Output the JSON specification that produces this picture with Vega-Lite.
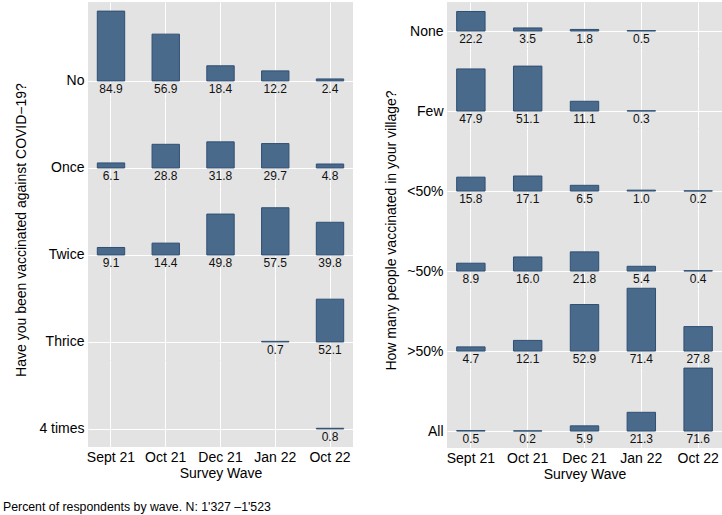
{
  "$schema": "https://vega.github.io/schema/vega-lite/v6.json",
  "padding": {"left": 2, "top": 2, "right": 0, "bottom": 4},
  "config": {
    "font": "Liberation Sans",
    "view": {"stroke": null, "fill": "#e3e3e3"},
    "axis": {"labelColor": "#000000", "titleColor": "#000000", "titleFontWeight": "normal", "gridColor": "#ffffff", "gridWidth": 1, "gridOpacity": 1},
    "text": {"color": "#111111"}
  },
  "title": {"text": "Percent of respondents by wave. N: 1'327 \u20131'523", "orient": "bottom", "anchor": "start", "frame": "bounds", "fontSize": 12.3, "fontWeight": "normal", "color": "#000000", "offset": 20, "dx": -11},
  "datasets": {
    "vax": [
      {"cat": "No", "wave": "Sept 21", "value": 84.9},
      {"cat": "No", "wave": "Oct 21", "value": 56.9},
      {"cat": "No", "wave": "Dec 21", "value": 18.4},
      {"cat": "No", "wave": "Jan 22", "value": 12.2},
      {"cat": "No", "wave": "Oct 22", "value": 2.4},
      {"cat": "Once", "wave": "Sept 21", "value": 6.1},
      {"cat": "Once", "wave": "Oct 21", "value": 28.8},
      {"cat": "Once", "wave": "Dec 21", "value": 31.8},
      {"cat": "Once", "wave": "Jan 22", "value": 29.7},
      {"cat": "Once", "wave": "Oct 22", "value": 4.8},
      {"cat": "Twice", "wave": "Sept 21", "value": 9.1},
      {"cat": "Twice", "wave": "Oct 21", "value": 14.4},
      {"cat": "Twice", "wave": "Dec 21", "value": 49.8},
      {"cat": "Twice", "wave": "Jan 22", "value": 57.5},
      {"cat": "Twice", "wave": "Oct 22", "value": 39.8},
      {"cat": "Thrice", "wave": "Jan 22", "value": 0.7},
      {"cat": "Thrice", "wave": "Oct 22", "value": 52.1},
      {"cat": "4 times", "wave": "Oct 22", "value": 0.8}
    ],
    "village": [
      {"cat": "None", "wave": "Sept 21", "value": 22.2},
      {"cat": "None", "wave": "Oct 21", "value": 3.5},
      {"cat": "None", "wave": "Dec 21", "value": 1.8},
      {"cat": "None", "wave": "Jan 22", "value": 0.5},
      {"cat": "Few", "wave": "Sept 21", "value": 47.9},
      {"cat": "Few", "wave": "Oct 21", "value": 51.1},
      {"cat": "Few", "wave": "Dec 21", "value": 11.1},
      {"cat": "Few", "wave": "Jan 22", "value": 0.3},
      {"cat": "<50%", "wave": "Sept 21", "value": 15.8},
      {"cat": "<50%", "wave": "Oct 21", "value": 17.1},
      {"cat": "<50%", "wave": "Dec 21", "value": 6.5},
      {"cat": "<50%", "wave": "Jan 22", "value": 1.0},
      {"cat": "<50%", "wave": "Oct 22", "value": 0.2},
      {"cat": "~50%", "wave": "Sept 21", "value": 8.9},
      {"cat": "~50%", "wave": "Oct 21", "value": 16.0},
      {"cat": "~50%", "wave": "Dec 21", "value": 21.8},
      {"cat": "~50%", "wave": "Jan 22", "value": 5.4},
      {"cat": "~50%", "wave": "Oct 22", "value": 0.4},
      {"cat": ">50%", "wave": "Sept 21", "value": 4.7},
      {"cat": ">50%", "wave": "Oct 21", "value": 12.1},
      {"cat": ">50%", "wave": "Dec 21", "value": 52.9},
      {"cat": ">50%", "wave": "Jan 22", "value": 71.4},
      {"cat": ">50%", "wave": "Oct 22", "value": 27.8},
      {"cat": "All", "wave": "Sept 21", "value": 0.5},
      {"cat": "All", "wave": "Oct 21", "value": 0.2},
      {"cat": "All", "wave": "Dec 21", "value": 5.9},
      {"cat": "All", "wave": "Jan 22", "value": 21.3},
      {"cat": "All", "wave": "Oct 22", "value": 71.6}
    ]
  },
  "spacing": 30,
  "hconcat": [
    {
      "spacing": 0,
      "bounds": "flush",
      "resolve": {"scale": {"x": "independent", "y": "independent"}, "axis": {"x": "independent", "y": "independent"}},
      "vconcat": [
        {
          "width": 265, "height": 97,
          "data": {"name": "vax"},
          "transform": [{"filter": "datum.cat === 'No'"}],
          "encoding": {"x": {"field": "wave", "type": "ordinal", "scale": {"domain": ["Sept 21", "Oct 21", "Dec 21", "Jan 22", "Oct 22"], "paddingInner": 0.5, "paddingOuter": 0.17}, "axis": {"grid": true, "labels": false, "ticks": false, "domain": false, "title": null, "bandPosition": 0.5}}},
          "layer": [
            {"mark": {"type": "bar", "fill": "#4a6a8c", "stroke": "#2f4f73", "strokeWidth": 1}, "encoding": {"y": {"field": "value", "type": "quantitative", "scale": {"domain": [-22, 96], "nice": false, "zero": false}, "axis": {"values": [0], "grid": true, "ticks": false, "domain": false, "title": null, "labelExpr": "'No'", "labelFontSize": 14, "labelPadding": 4, "labelBaseline": "middle"}}}},
            {"mark": {"type": "text", "baseline": "top", "dy": 3, "fontSize": 12}, "encoding": {"y": {"datum": 0}, "text": {"field": "value", "type": "quantitative", "format": ".1f"}}}
          ]
        },
        {
          "width": 265, "height": 87,
          "data": {"name": "vax"},
          "transform": [{"filter": "datum.cat === 'Once'"}],
          "encoding": {"x": {"field": "wave", "type": "ordinal", "scale": {"domain": ["Sept 21", "Oct 21", "Dec 21", "Jan 22", "Oct 22"], "paddingInner": 0.5, "paddingOuter": 0.17}, "axis": {"grid": true, "labels": false, "ticks": false, "domain": false, "title": null, "bandPosition": 0.5}}},
          "layer": [
            {"mark": {"type": "bar", "fill": "#4a6a8c", "stroke": "#2f4f73", "strokeWidth": 1}, "encoding": {"y": {"field": "value", "type": "quantitative", "scale": {"domain": [-22, 84], "nice": false, "zero": false}, "axis": {"values": [0], "grid": true, "ticks": false, "domain": false, "title": null, "labelExpr": "'Once'", "labelFontSize": 14, "labelPadding": 4, "labelBaseline": "middle"}}}},
            {"mark": {"type": "text", "baseline": "top", "dy": 3, "fontSize": 12}, "encoding": {"y": {"datum": 0}, "text": {"field": "value", "type": "quantitative", "format": ".1f"}}}
          ]
        },
        {
          "width": 265, "height": 87,
          "data": {"name": "vax"},
          "transform": [{"filter": "datum.cat === 'Twice'"}],
          "encoding": {"x": {"field": "wave", "type": "ordinal", "scale": {"domain": ["Sept 21", "Oct 21", "Dec 21", "Jan 22", "Oct 22"], "paddingInner": 0.5, "paddingOuter": 0.17}, "axis": {"grid": true, "labels": false, "ticks": false, "domain": false, "title": null, "bandPosition": 0.5}}},
          "layer": [
            {"mark": {"type": "bar", "fill": "#4a6a8c", "stroke": "#2f4f73", "strokeWidth": 1}, "encoding": {"y": {"field": "value", "type": "quantitative", "scale": {"domain": [-22, 84], "nice": false, "zero": false}, "axis": {"values": [0], "grid": true, "ticks": false, "domain": false, "title": "Have you been vaccinated against COVID\u221219?", "titleFontSize": 14, "titleX": -60, "labelExpr": "'Twice'", "labelFontSize": 14, "labelPadding": 4, "labelBaseline": "middle"}}}},
            {"mark": {"type": "text", "baseline": "top", "dy": 3, "fontSize": 12}, "encoding": {"y": {"datum": 0}, "text": {"field": "value", "type": "quantitative", "format": ".1f"}}}
          ]
        },
        {
          "width": 265, "height": 87,
          "data": {"name": "vax"},
          "transform": [{"filter": "datum.cat === 'Thrice'"}],
          "encoding": {"x": {"field": "wave", "type": "ordinal", "scale": {"domain": ["Sept 21", "Oct 21", "Dec 21", "Jan 22", "Oct 22"], "paddingInner": 0.5, "paddingOuter": 0.17}, "axis": {"grid": true, "labels": false, "ticks": false, "domain": false, "title": null, "bandPosition": 0.5}}},
          "layer": [
            {"mark": {"type": "bar", "fill": "#4a6a8c", "stroke": "#2f4f73", "strokeWidth": 1}, "encoding": {"y": {"field": "value", "type": "quantitative", "scale": {"domain": [-22, 84], "nice": false, "zero": false}, "axis": {"values": [0], "grid": true, "ticks": false, "domain": false, "title": null, "labelExpr": "'Thrice'", "labelFontSize": 14, "labelPadding": 4, "labelBaseline": "middle"}}}},
            {"mark": {"type": "text", "baseline": "top", "dy": 3, "fontSize": 12}, "encoding": {"y": {"datum": 0}, "text": {"field": "value", "type": "quantitative", "format": ".1f"}}}
          ]
        },
        {
          "width": 265, "height": 87,
          "data": {"name": "vax"},
          "transform": [{"filter": "datum.cat === '4 times'"}],
          "encoding": {"x": {"field": "wave", "type": "ordinal", "scale": {"domain": ["Sept 21", "Oct 21", "Dec 21", "Jan 22", "Oct 22"], "paddingInner": 0.5, "paddingOuter": 0.17}, "axis": {"grid": true, "labels": true, "labelFontSize": 14, "labelPadding": 3, "labelAngle": 0, "ticks": false, "domain": false, "title": "Survey Wave", "titleFontSize": 14, "titlePadding": 2, "bandPosition": 0.5}}},
          "layer": [
            {"mark": {"type": "bar", "fill": "#4a6a8c", "stroke": "#2f4f73", "strokeWidth": 1}, "encoding": {"y": {"field": "value", "type": "quantitative", "scale": {"domain": [-22, 84], "nice": false, "zero": false}, "axis": {"values": [0], "grid": true, "ticks": false, "domain": false, "title": null, "labelExpr": "'4 times'", "labelFontSize": 14, "labelPadding": 4, "labelBaseline": "middle"}}}},
            {"mark": {"type": "text", "baseline": "top", "dy": 3, "fontSize": 12}, "encoding": {"y": {"datum": 0}, "text": {"field": "value", "type": "quantitative", "format": ".1f"}}}
          ]
        }
      ]
    },
    {
      "spacing": 0,
      "bounds": "flush",
      "resolve": {"scale": {"x": "independent", "y": "independent"}, "axis": {"x": "independent", "y": "independent"}},
      "vconcat": [
        {
          "width": 275, "height": 46,
          "data": {"name": "village"},
          "transform": [{"filter": "datum.cat === 'None'"}],
          "encoding": {"x": {"field": "wave", "type": "ordinal", "scale": {"domain": ["Sept 21", "Oct 21", "Dec 21", "Jan 22", "Oct 22"], "paddingInner": 0.5, "paddingOuter": 0.17}, "axis": {"grid": true, "labels": false, "ticks": false, "domain": false, "title": null, "bandPosition": 0.5}}},
          "layer": [
            {"mark": {"type": "bar", "fill": "#4a6a8c", "stroke": "#2f4f73", "strokeWidth": 1}, "encoding": {"y": {"field": "value", "type": "quantitative", "scale": {"domain": [-19.3, 33], "nice": false, "zero": false}, "axis": {"values": [0], "grid": true, "ticks": false, "domain": false, "title": null, "labelExpr": "'None'", "labelFontSize": 14, "labelPadding": 4, "labelBaseline": "middle"}}}},
            {"mark": {"type": "text", "baseline": "top", "dy": 3, "fontSize": 12}, "encoding": {"y": {"datum": 0}, "text": {"field": "value", "type": "quantitative", "format": ".1f"}}}
          ]
        },
        {
          "width": 275, "height": 80,
          "data": {"name": "village"},
          "transform": [{"filter": "datum.cat === 'Few'"}],
          "encoding": {"x": {"field": "wave", "type": "ordinal", "scale": {"domain": ["Sept 21", "Oct 21", "Dec 21", "Jan 22", "Oct 22"], "paddingInner": 0.5, "paddingOuter": 0.17}, "axis": {"grid": true, "labels": false, "ticks": false, "domain": false, "title": null, "bandPosition": 0.5}}},
          "layer": [
            {"mark": {"type": "bar", "fill": "#4a6a8c", "stroke": "#2f4f73", "strokeWidth": 1}, "encoding": {"y": {"field": "value", "type": "quantitative", "scale": {"domain": [-19.3, 71.7], "nice": false, "zero": false}, "axis": {"values": [0], "grid": true, "ticks": false, "domain": false, "title": null, "labelExpr": "'Few'", "labelFontSize": 14, "labelPadding": 4, "labelBaseline": "middle"}}}},
            {"mark": {"type": "text", "baseline": "top", "dy": 3, "fontSize": 12}, "encoding": {"y": {"datum": 0}, "text": {"field": "value", "type": "quantitative", "format": ".1f"}}}
          ]
        },
        {
          "width": 275, "height": 80,
          "data": {"name": "village"},
          "transform": [{"filter": "datum.cat === '<50%'"}],
          "encoding": {"x": {"field": "wave", "type": "ordinal", "scale": {"domain": ["Sept 21", "Oct 21", "Dec 21", "Jan 22", "Oct 22"], "paddingInner": 0.5, "paddingOuter": 0.17}, "axis": {"grid": true, "labels": false, "ticks": false, "domain": false, "title": null, "bandPosition": 0.5}}},
          "layer": [
            {"mark": {"type": "bar", "fill": "#4a6a8c", "stroke": "#2f4f73", "strokeWidth": 1}, "encoding": {"y": {"field": "value", "type": "quantitative", "scale": {"domain": [-19.3, 71.7], "nice": false, "zero": false}, "axis": {"values": [0], "grid": true, "ticks": false, "domain": false, "title": null, "labelExpr": "'<50%'", "labelFontSize": 14, "labelPadding": 4, "labelBaseline": "middle"}}}},
            {"mark": {"type": "text", "baseline": "top", "dy": 3, "fontSize": 12}, "encoding": {"y": {"datum": 0}, "text": {"field": "value", "type": "quantitative", "format": ".1f"}}}
          ]
        },
        {
          "width": 275, "height": 80,
          "data": {"name": "village"},
          "transform": [{"filter": "datum.cat === '~50%'"}],
          "encoding": {"x": {"field": "wave", "type": "ordinal", "scale": {"domain": ["Sept 21", "Oct 21", "Dec 21", "Jan 22", "Oct 22"], "paddingInner": 0.5, "paddingOuter": 0.17}, "axis": {"grid": true, "labels": false, "ticks": false, "domain": false, "title": null, "bandPosition": 0.5}}},
          "layer": [
            {"mark": {"type": "bar", "fill": "#4a6a8c", "stroke": "#2f4f73", "strokeWidth": 1}, "encoding": {"y": {"field": "value", "type": "quantitative", "scale": {"domain": [-19.3, 71.7], "nice": false, "zero": false}, "axis": {"values": [0], "grid": true, "ticks": false, "domain": false, "title": "How many people vaccinated in your village?", "titleFontSize": 14, "titleX": -49, "titleY": 22, "labelExpr": "'~50%'", "labelFontSize": 14, "labelPadding": 4, "labelBaseline": "middle"}}}},
            {"mark": {"type": "text", "baseline": "top", "dy": 3, "fontSize": 12}, "encoding": {"y": {"datum": 0}, "text": {"field": "value", "type": "quantitative", "format": ".1f"}}}
          ]
        },
        {
          "width": 275, "height": 80,
          "data": {"name": "village"},
          "transform": [{"filter": "datum.cat === '>50%'"}],
          "encoding": {"x": {"field": "wave", "type": "ordinal", "scale": {"domain": ["Sept 21", "Oct 21", "Dec 21", "Jan 22", "Oct 22"], "paddingInner": 0.5, "paddingOuter": 0.17}, "axis": {"grid": true, "labels": false, "ticks": false, "domain": false, "title": null, "bandPosition": 0.5}}},
          "layer": [
            {"mark": {"type": "bar", "fill": "#4a6a8c", "stroke": "#2f4f73", "strokeWidth": 1}, "encoding": {"y": {"field": "value", "type": "quantitative", "scale": {"domain": [-19.3, 71.7], "nice": false, "zero": false}, "axis": {"values": [0], "grid": true, "ticks": false, "domain": false, "title": null, "labelExpr": "'>50%'", "labelFontSize": 14, "labelPadding": 4, "labelBaseline": "middle"}}}},
            {"mark": {"type": "text", "baseline": "top", "dy": 3, "fontSize": 12}, "encoding": {"y": {"datum": 0}, "text": {"field": "value", "type": "quantitative", "format": ".1f"}}}
          ]
        },
        {
          "width": 275, "height": 80,
          "data": {"name": "village"},
          "transform": [{"filter": "datum.cat === 'All'"}],
          "encoding": {"x": {"field": "wave", "type": "ordinal", "scale": {"domain": ["Sept 21", "Oct 21", "Dec 21", "Jan 22", "Oct 22"], "paddingInner": 0.5, "paddingOuter": 0.17}, "axis": {"grid": true, "labels": true, "labelFontSize": 14, "labelPadding": 3, "labelAngle": 0, "ticks": false, "domain": false, "title": "Survey Wave", "titleFontSize": 14, "titlePadding": 2, "bandPosition": 0.5}}},
          "layer": [
            {"mark": {"type": "bar", "fill": "#4a6a8c", "stroke": "#2f4f73", "strokeWidth": 1}, "encoding": {"y": {"field": "value", "type": "quantitative", "scale": {"domain": [-19.3, 71.7], "nice": false, "zero": false}, "axis": {"values": [0], "grid": true, "ticks": false, "domain": false, "title": null, "labelExpr": "'All'", "labelFontSize": 14, "labelPadding": 4, "labelBaseline": "middle"}}}},
            {"mark": {"type": "text", "baseline": "top", "dy": 3, "fontSize": 12}, "encoding": {"y": {"datum": 0}, "text": {"field": "value", "type": "quantitative", "format": ".1f"}}}
          ]
        }
      ]
    }
  ]
}
